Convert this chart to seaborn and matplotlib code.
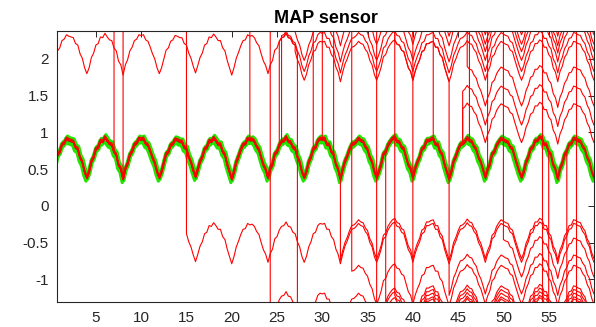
import numpy as np
import pandas as pd
import matplotlib
matplotlib.use("Agg")
import matplotlib.pyplot as plt
import seaborn as sns

# ---------------- data ----------------
sample_x = np.arange(0.25, 60.001, 0.25)        # sample positions (240)

# common MAP waveform (x = 0.25 ... 60, step 0.25), one row per 4-unit cycle
base_wave = [
    0.48, 0.56, 0.69, 0.73, 0.83, 0.85, 0.91, 0.89, 0.88, 0.87, 0.79, 0.77, 0.65, 0.59, 0.46, 0.38,
    0.46, 0.60, 0.66, 0.77, 0.79, 0.88, 0.87, 0.93, 0.88, 0.84, 0.83, 0.73, 0.69, 0.55, 0.50, 0.36,
    0.50, 0.57, 0.69, 0.74, 0.83, 0.85, 0.91, 0.90, 0.91, 0.84, 0.82, 0.74, 0.65, 0.58, 0.46, 0.38,
    0.46, 0.58, 0.70, 0.73, 0.82, 0.84, 0.90, 0.89, 0.87, 0.87, 0.79, 0.77, 0.66, 0.59, 0.48, 0.39,
    0.49, 0.60, 0.66, 0.77, 0.79, 0.88, 0.87, 0.92, 0.88, 0.83, 0.83, 0.73, 0.69, 0.56, 0.46, 0.36,
    0.46, 0.59, 0.67, 0.76, 0.83, 0.84, 0.91, 0.89, 0.90, 0.87, 0.80, 0.76, 0.65, 0.55, 0.49, 0.38,
    0.50, 0.56, 0.70, 0.73, 0.82, 0.87, 0.88, 0.93, 0.87, 0.86, 0.79, 0.77, 0.66, 0.59, 0.46, 0.38,
    0.46, 0.59, 0.66, 0.77, 0.79, 0.88, 0.91, 0.90, 0.91, 0.83, 0.83, 0.73, 0.69, 0.56, 0.49, 0.36,
    0.49, 0.60, 0.67, 0.76, 0.83, 0.84, 0.87, 0.91, 0.88, 0.87, 0.80, 0.76, 0.65, 0.59, 0.46, 0.38,
    0.46, 0.56, 0.70, 0.73, 0.82, 0.87, 0.91, 0.93, 0.87, 0.86, 0.79, 0.77, 0.66, 0.55, 0.50, 0.38,
    0.50, 0.59, 0.66, 0.77, 0.79, 0.88, 0.88, 0.90, 0.91, 0.83, 0.83, 0.73, 0.69, 0.56, 0.46, 0.36,
    0.46, 0.60, 0.67, 0.76, 0.83, 0.84, 0.87, 0.92, 0.88, 0.87, 0.80, 0.76, 0.65, 0.59, 0.49, 0.38,
    0.49, 0.56, 0.70, 0.73, 0.82, 0.87, 0.91, 0.89, 0.87, 0.86, 0.79, 0.77, 0.66, 0.56, 0.46, 0.38,
    0.46, 0.59, 0.66, 0.77, 0.79, 0.88, 0.88, 0.93, 0.91, 0.83, 0.83, 0.73, 0.69, 0.55, 0.49, 0.36,
    0.50, 0.57, 0.69, 0.74, 0.83, 0.84, 0.91, 0.90, 0.88, 0.87, 0.80, 0.76, 0.65, 0.59, 0.46, 0.38,
]

# traces forming the central band
band_shift = [-0.045, -0.02, 0.015, 0.04, -0.03, 0.0, 0.025, -0.01, 0.012]
band_xshift = [-0.10, 0.08, -0.05, 0.10, 0.05, -0.04, 0.0, 0.03, -0.06]
band_color = ['#22e400', '#22e400', '#22e400', '#22e400',
              '#ff0000', '#ff0000', '#ff0000', '#9a2a00', '#b83000']
band_width = [2.2, 2.2, 2.2, 2.2, 1.0, 1.0, 1.0, 0.9, 0.9]

# offset traces: (trace, segment start, offset from the waveform)
seg_trace = ['U1', 'U1',
             'U2', 'U2',
             'U3', 'U3',
             'U4', 'U4',
             'U5', 'U5', 'U5',
             'U6', 'U6',
             'U7', 'U7',
             'R1', 'R1',
             'R2', 'R2',
             'R3', 'R3',
             'L1', 'L1',
             'L2', 'L2',
             'L3', 'L3',
             'B1', 'B1',
             'B2', 'B2',
             'B3', 'B3',
             'B4', 'B4',
             'B5', 'B5',
             'J1', 'J1', 'J1', 'J1', 'J1',
             'J2', 'J2', 'J2', 'J2',
             'J4', 'J4', 'J4',
             'J5', 'J5', 'J5', 'J5', 'J5',
             'J6', 'J6',
             'J7', 'J7',
             'J8', 'J8']
seg_start = [0.25, 27,
             0.25, 25.5,
             0.25, 27,
             0.25, 29,
             0.25, 38, 44,
             0.25, 40,
             0.25, 46,
             0.25, 45.5,
             0.25, 45.5,
             0.25, 46,
             0.25, 15,
             0.25, 33.25,
             0.25, 50,
             0.25, 24.25,
             0.25, 37,
             0.25, 38,
             0.25, 40,
             0.25, 36,
             0.25, 7, 22, 29, 57,
             0.25, 8, 25.25, 27.25,
             0.25, 30, 55,
             0.25, 31.25, 42.25, 46.25, 48.25,
             0.25, 32,
             0.25, 58,
             0.25, 54.25]
seg_offset = [1.42, 1.33,
              0.0, 1.45,
              3.0, 1.60,
              3.0, 1.82,
              3.0, 1.33, -1.58,
              3.0, 1.95,
              3.0, 1.72,
              0.0, 0.72,
              0.0, 0.48,
              3.0, 0.98,
              3.0, -1.15,
              3.0, -1.72,
              3.0, -1.35,
              3.0, -2.10,
              0.0, -2.05,
              3.0, -2.15,
              3.0, -2.00,
              3.0, -2.18,
              3.0, 0.0, 3.0, 0.0, -3.0,
              3.0, 0.0, 1.42, -3.0,
              3.0, 0.0, -3.0,
              0.0, 3.0, 0.0, 3.0, 0.0,
              0.0, -1.10,
              3.0, -3.0,
              3.0, -3.0]

x_ticks = [5, 10, 15, 20, 25, 30, 35, 40, 45, 50, 55]
y_ticks = [-1, -0.5, 0, 0.5, 1, 1.5, 2]
y_tick_labels = ['-1', '-0.5', '0', '0.5', '1', '1.5', '2']
title_text = 'MAP sensor'

# ---------------- drawing ----------------
sns.set_style('white')
plt.rcParams['font.family'] = ['Liberation Sans', 'DejaVu Sans']

fig = plt.figure(figsize=(5.96, 3.27), dpi=100)
ax = fig.add_axes([0.0956, 0.0765, 0.901, 0.8285])

base = np.array(base_wave)

# band: red first, then green on top, dark lines last
order = [4, 5, 0, 1, 2, 3, 6, 7, 8]
for i in order:
    df = pd.DataFrame({'x': sample_x + band_xshift[i],
                       'y': base + band_shift[i]})
    sns.lineplot(data=df, x='x', y='y', ax=ax, color=band_color[i],
                 linewidth=band_width[i], estimator=None, sort=False,
                 legend=False)

segs = pd.DataFrame({'trace': seg_trace, 'start': seg_start,
                     'offset': seg_offset})
for tid, g in segs.groupby('trace', sort=False):
    starts = g['start'].tolist()
    offs = g['offset'].tolist()
    xs, ys = [], []
    for k, (s, o) in enumerate(zip(starts, offs)):
        e = starts[k + 1] if k + 1 < len(starts) else 60.0
        m = (sample_x >= s - 1e-9) & (sample_x <= e + 1e-9)
        xs += list(sample_x[m])
        ys += list(base[m] + o)
    df = pd.DataFrame({'x': xs, 'y': ys})
    sns.lineplot(data=df, x='x', y='y', ax=ax, color='#ff0000',
                 linewidth=0.8, estimator=None, sort=False, legend=False)

ax.set_xlim(0.7, 60)
ax.set_ylim(-1.31, 2.38)
ax.set_xticks(x_ticks)
ax.set_xticklabels([str(t) for t in x_ticks])
ax.set_yticks(y_ticks)
ax.set_yticklabels(y_tick_labels)
ax.set_xlabel('')
ax.set_ylabel('')
ax.tick_params(axis='both', direction='in', length=4, width=0.7,
               color='#262626', labelsize=11, labelcolor='#262626',
               top=True, right=True)
ax.tick_params(axis='x', pad=6.5)
ax.tick_params(axis='y', pad=6)
for sp in ax.spines.values():
    sp.set_visible(True)
    sp.set_color('#262626')
    sp.set_linewidth(0.8)
ax.set_title(title_text, fontweight='bold', fontsize=13, pad=6,
             color='black')

fig.savefig('out.png', dpi=100, facecolor='white')
